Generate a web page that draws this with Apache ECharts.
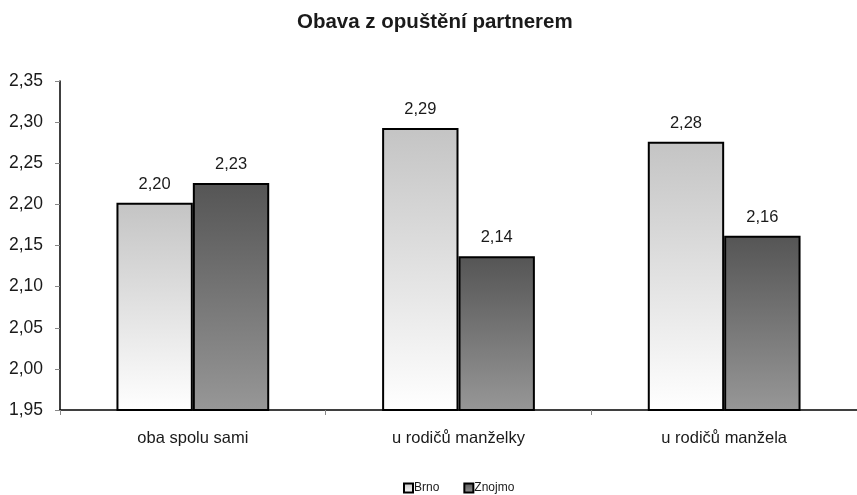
<!DOCTYPE html>
<html>
<head>
<meta charset="utf-8">
<script src="https://cdn.jsdelivr.net/npm/echarts@6/dist/echarts.min.js"></script>
<style>
html,body{margin:0;padding:0;background:#fff;}
#chart{width:857px;height:495px;}
</style>
</head>
<body>
<div id="chart"></div>
<script>
var titleText = 'Obava z opuštění partnerem';
var categories = ['oba spolu sami', 'u rodičů manželky', 'u rodičů manžela'];
var seriesNames = ['Brno', 'Znojmo'];
var brno = [2.202, 2.293, 2.276];
var znojmo = [2.226, 2.137, 2.162];
var yTicks = [1.95, 2.00, 2.05, 2.10, 2.15, 2.20, 2.25, 2.30, 2.35];

var FONT = '"Liberation Sans", Arial, sans-serif';
function fmt(v){ return v.toFixed(2).replace('.', ','); }
function grad(top, bottom){
  return new echarts.graphic.LinearGradient(0,0,0,1,[{offset:0,color:top},{offset:1,color:bottom}]);
}
var chart = echarts.init(document.getElementById('chart'), null, {renderer:'canvas'});
chart.setOption({
  animation:false,
  backgroundColor:'#fff',
  textStyle:{fontFamily:FONT},
  title:{
    text:titleText, left:292, top:7,
    textStyle:{fontFamily:FONT, fontSize:20.5, fontWeight:'bold', color:'#1a1a1a'}
  },
  legend:{
    data:seriesNames, top:482, left:403, padding:0,
    itemWidth:9, itemHeight:9, itemGap:24,
    textStyle:{fontFamily:FONT, fontSize:12, color:'#1a1a1a', padding:[0,0,0,-4]},
    icon:'rect'
  },
  grid:{left:60, right:0, top:81, bottom:85, containLabel:false},
  xAxis:{
    type:'category', data:categories,
    axisLine:{lineStyle:{color:'#000', width:1.5}},
    axisTick:{show:true, length:5, lineStyle:{color:'#888'}},
    axisLabel:{fontFamily:FONT, fontSize:16.5, color:'#1a1a1a', margin:20}
  },
  yAxis:{
    type:'value', min:yTicks[0], max:yTicks[yTicks.length-1], interval:0.05,
    axisLine:{show:true, lineStyle:{color:'#000', width:1.5}},
    axisTick:{show:true, length:5, lineStyle:{color:'#888'}},
    splitLine:{show:false},
    axisLabel:{fontFamily:FONT, fontSize:17.5, color:'#1a1a1a', margin:17,
      formatter:function(v){ return fmt(v); }}
  },
  series:[
    {
      name:seriesNames[0], type:'bar', data:brno,
      barGap:'0%', barCategoryGap:'42.5%',
      itemStyle:{color:grad('#c4c4c4','#ffffff'), borderColor:'#000', borderWidth:2},
      label:{show:true, position:'top', distance:10, fontFamily:FONT, fontSize:16.5, color:'#1a1a1a',
        formatter:function(p){ return fmt(p.value); }}
    },
    {
      name:seriesNames[1], type:'bar', data:znojmo,
      barGap:'0%', barCategoryGap:'42.5%',
      itemStyle:{color:grad('#555555','#979797'), borderColor:'#000', borderWidth:2},
      label:{show:true, position:'top', distance:10, fontFamily:FONT, fontSize:16.5, color:'#1a1a1a',
        formatter:function(p){ return fmt(p.value); }}
    }
  ]
});
</script>
</body>
</html>
